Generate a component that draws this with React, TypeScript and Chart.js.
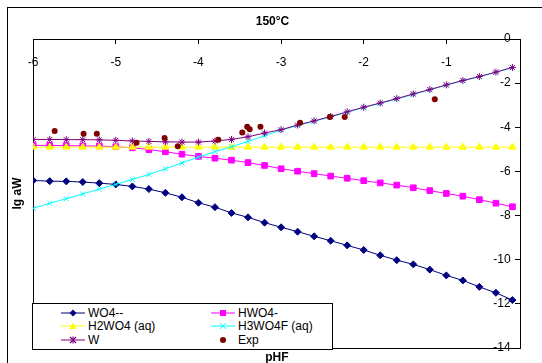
import React, { useEffect, useRef } from 'react';
import { Chart, registerables } from 'chart.js';

Chart.register(...registerables);

// ---- data ----
const pHF = [-6, -5.8, -5.6, -5.4, -5.2, -5.0, -4.8, -4.6, -4.4, -4.2, -4.0, -3.8, -3.6, -3.4, -3.2, -3.0, -2.8, -2.6, -2.4, -2.2, -2.0, -1.8, -1.6, -1.4, -1.2, -1.0, -0.8, -0.6, -0.4, -0.2];
const WO4 = [-6.41, -6.44, -6.45, -6.48, -6.53, -6.59, -6.68, -6.80, -6.97, -7.17, -7.42, -7.62, -7.88, -8.08, -8.32, -8.53, -8.73, -8.94, -9.14, -9.35, -9.56, -9.80, -10.02, -10.21, -10.45, -10.71, -10.94, -11.23, -11.50, -11.83];
const HWO4 = [-4.82, -4.82, -4.83, -4.84, -4.85, -4.88, -4.93, -5.01, -5.11, -5.22, -5.32, -5.40, -5.49, -5.60, -5.73, -5.88, -5.99, -6.10, -6.21, -6.31, -6.42, -6.52, -6.62, -6.74, -6.87, -7.00, -7.12, -7.28, -7.44, -7.60];
const H2WO4 = [-4.9, -4.9, -4.9, -4.9, -4.9, -4.9, -4.9, -4.9, -4.9, -4.9, -4.9, -4.9, -4.9, -4.9, -4.9, -4.9, -4.9, -4.9, -4.9, -4.9, -4.9, -4.9, -4.9, -4.9, -4.9, -4.9, -4.9, -4.9, -4.9, -4.9];
const H3WO4F = [-7.67, -7.44, -7.24, -7.02, -6.80, -6.59, -6.36, -6.14, -5.88, -5.62, -5.35, -5.10, -4.88, -4.64, -4.38, -4.13, -3.92, -3.73, -3.53, -3.32, -3.11, -2.92, -2.72, -2.51, -2.30, -2.09, -1.89, -1.71, -1.51, -1.30];
const W = [-4.55, -4.55, -4.56, -4.56, -4.57, -4.59, -4.62, -4.64, -4.66, -4.67, -4.67, -4.62, -4.55, -4.43, -4.26, -4.11, -3.90, -3.71, -3.51, -3.30, -3.09, -2.90, -2.70, -2.49, -2.29, -2.08, -1.88, -1.70, -1.50, -1.29];
const expX = [-5.74, -5.39, -5.23, -4.75, -4.41, -4.25, -3.76, -3.47, -3.41, -3.38, -3.25, -2.77, -2.41, -2.23, -1.14];
const expY = [-4.17, -4.29, -4.29, -4.70, -4.48, -4.86, -4.56, -4.24, -3.98, -4.09, -3.98, -3.80, -3.53, -3.53, -2.73];
const xTickValues = [-6, -5, -4, -3, -2, -1];
const yTickValues = [0, -2, -4, -6, -8, -10, -12, -14];

const FONT = '"Liberation Sans", Arial, Helvetica, sans-serif';

const toPts = (ys: number[]) => pHF.map((x, i) => ({ x, y: ys[i] }));

type LegendItem = { label: string; color: string; marker: string; line: boolean };
const legendItems: LegendItem[] = [
  { label: 'WO4--', color: '#000080', marker: 'diamond', line: true },
  { label: 'HWO4-', color: '#FF00FF', marker: 'square', line: true },
  { label: 'H2WO4 (aq)', color: '#FFFF00', marker: 'triangle', line: true },
  { label: 'H3WO4F (aq)', color: '#00FFFF', marker: 'x', line: true },
  { label: 'W', color: '#800080', marker: 'star', line: true },
  { label: 'Exp', color: '#800000', marker: 'circle', line: false },
];

function Marker({ item }: { item: LegendItem }) {
  const c = item.color;
  const cx = 12, cy = 5;
  let m: React.ReactNode = null;
  if (item.marker === 'diamond') m = <polygon points={`${cx},${cy - 3.5} ${cx + 3.5},${cy} ${cx},${cy + 3.5} ${cx - 3.5},${cy}`} fill={c} />;
  if (item.marker === 'square') m = <rect x={cx - 3} y={cy - 3} width={6} height={6} fill={c} />;
  if (item.marker === 'triangle') m = <polygon points={`${cx},${cy - 3.5} ${cx + 3.5},${cy + 3} ${cx - 3.5},${cy + 3}`} fill={c} />;
  if (item.marker === 'x') m = <g stroke={c} strokeWidth={1}><line x1={cx - 3} y1={cy - 3} x2={cx + 3} y2={cy + 3} /><line x1={cx - 3} y1={cy + 3} x2={cx + 3} y2={cy - 3} /></g>;
  if (item.marker === 'star') m = <g stroke={c} strokeWidth={1.2}><line x1={cx - 3} y1={cy - 3} x2={cx + 3} y2={cy + 3} /><line x1={cx - 3} y1={cy + 3} x2={cx + 3} y2={cy - 3} /><line x1={cx} y1={cy - 3.5} x2={cx} y2={cy + 3.5} /></g>;
  if (item.marker === 'circle') m = <circle cx={cx} cy={cy} r={3} fill={c} />;
  return (
    <svg width={24} height={10} style={{ display: 'block' }}>
      {item.line && <line x1={0} y1={cy} x2={24} y2={cy} stroke={c} strokeWidth={1} />}
      {m}
    </svg>
  );
}

export default function App() {
  const ref = useRef<HTMLCanvasElement | null>(null);

  useEffect(() => {
    if (!ref.current) return;
    const common = { showLine: true, borderWidth: 1, pointBorderWidth: 1, xAxisID: 'x', yAxisID: 'y' };
    const chart = new Chart(ref.current, {
      type: 'scatter',
      data: {
        datasets: [
          { ...common, label: 'WO4--', data: toPts(WO4), borderColor: '#000080', backgroundColor: '#000080', pointStyle: 'rectRot', pointRadius: 3.5, order: 5 },
          { ...common, label: 'HWO4-', data: toPts(HWO4), borderColor: '#FF00FF', backgroundColor: '#FF00FF', pointStyle: 'rect', pointRadius: 4, order: 4 },
          { ...common, label: 'H2WO4 (aq)', data: toPts(H2WO4), borderColor: '#FFFF00', backgroundColor: '#FFFF00', pointStyle: 'triangle', pointRadius: 4, order: 3 },
          { ...common, label: 'H3WO4F (aq)', data: toPts(H3WO4F), borderColor: '#00FFFF', backgroundColor: '#00FFFF', pointStyle: 'crossRot', pointRadius: 3.5, order: 2 },
          { ...common, label: 'W', data: toPts(W), borderColor: '#800080', backgroundColor: '#800080', pointStyle: 'star', pointRadius: 3.5, order: 1 },
          { label: 'Exp', data: expX.map((x, i) => ({ x, y: expY[i] })), showLine: false, xAxisID: 'x', yAxisID: 'y', borderColor: '#800000', backgroundColor: '#800000', pointStyle: 'circle', pointRadius: 3, pointBorderWidth: 0, order: 0 },
        ] as any,
      },
      options: {
        responsive: false,
        animation: false,
        devicePixelRatio: 1,
        layout: { padding: { left: 6.8, right: 3.8, top: 0, bottom: 0.8 } },
        plugins: {
          legend: { display: false },
          tooltip: { enabled: false },
          title: {
            display: true,
            text: '150°C',
            color: '#000',
            font: { family: FONT, size: 12, weight: 'bold' },
            padding: { top: 14.8, bottom: 9.8 },
          },
        },
        scales: {
          x: {
            type: 'linear',
            min: -6,
            max: -0.1,
            position: { y: 0 } as any,
            afterBuildTicks: (s: any) => { s.ticks = xTickValues.map((v) => ({ value: v })); },
            ticks: { color: '#000', font: { family: FONT, size: 12 }, padding: 12, maxRotation: 0, autoSkip: false },
            grid: { drawOnChartArea: false, tickLength: 4, color: '#000', lineWidth: 1 },
            border: { display: true, color: '#000', width: 1 },
          },
          xB: {
            type: 'linear',
            position: 'bottom',
            min: -6,
            max: -0.1,
            ticks: { display: false },
            grid: { display: false, drawTicks: false },
            border: { display: true, color: '#000', width: 1 },
            title: { display: true, text: 'pHF', color: '#000', font: { family: FONT, size: 12, weight: 'bold' }, padding: { top: 2.8, bottom: 0 } },
          },
          y: {
            type: 'linear',
            min: -14,
            max: 0,
            position: { x: -0.1 } as any,
            afterBuildTicks: (s: any) => { s.ticks = yTickValues.map((v) => ({ value: v })); },
            ticks: { color: '#000', font: { family: FONT, size: 12 }, callback: (v: any) => `${v}   ` },
            grid: { drawOnChartArea: false, tickLength: 5, color: '#000', lineWidth: 1 },
            border: { display: true, color: '#000', width: 1 },
          },
          yL: {
            type: 'linear',
            position: 'left',
            min: -14,
            max: 0,
            ticks: { display: false },
            grid: { display: false, drawTicks: false },
            border: { display: true, color: '#000', width: 1 },
            title: { display: true, text: 'lg aW', color: '#000', font: { family: FONT, size: 12, weight: 'bold' }, padding: { top: 4, bottom: 8 } },
          },
          yR: {
            type: 'linear',
            position: 'right',
            min: -14,
            max: 0,
            ticks: { display: false },
            grid: { display: false, drawTicks: false },
            border: { display: false },
            afterFit: (s: any) => { s.width = 17.5; },
          },
        },
      } as any,
    });
    return () => chart.destroy();
  }, []);

  const rowsY = [3.5, 17.3, 30.5];
  return (
    <div style={{ position: 'fixed', left: 0, top: 0, width: 542, height: 363, overflow: 'hidden', background: '#fff', fontFamily: FONT }}>
      <canvas ref={ref} width={542} height={366} style={{ position: 'absolute', left: 0, top: 0 }} />
      <div style={{ position: 'absolute', left: 7, top: 7, width: 600, height: 400, border: '1px solid #000', pointerEvents: 'none' }} />
      <div style={{ position: 'absolute', left: 32, top: 303, width: 299, height: 45, border: '1px solid #000', background: '#fff' }}>
        {legendItems.map((it, i) => {
          const col = i % 2;
          const row = Math.floor(i / 2);
          const left = col === 0 ? 28 : 178;
          return (
            <div key={it.label} style={{ position: 'absolute', left, top: rowsY[row], display: 'flex', alignItems: 'center', height: 10, whiteSpace: 'nowrap' }}>
              <Marker item={it} />
              <span style={{ marginLeft: 3, fontSize: 12, lineHeight: '10px', color: '#000' }}>{it.label}</span>
            </div>
          );
        })}
      </div>
    </div>
  );
}
